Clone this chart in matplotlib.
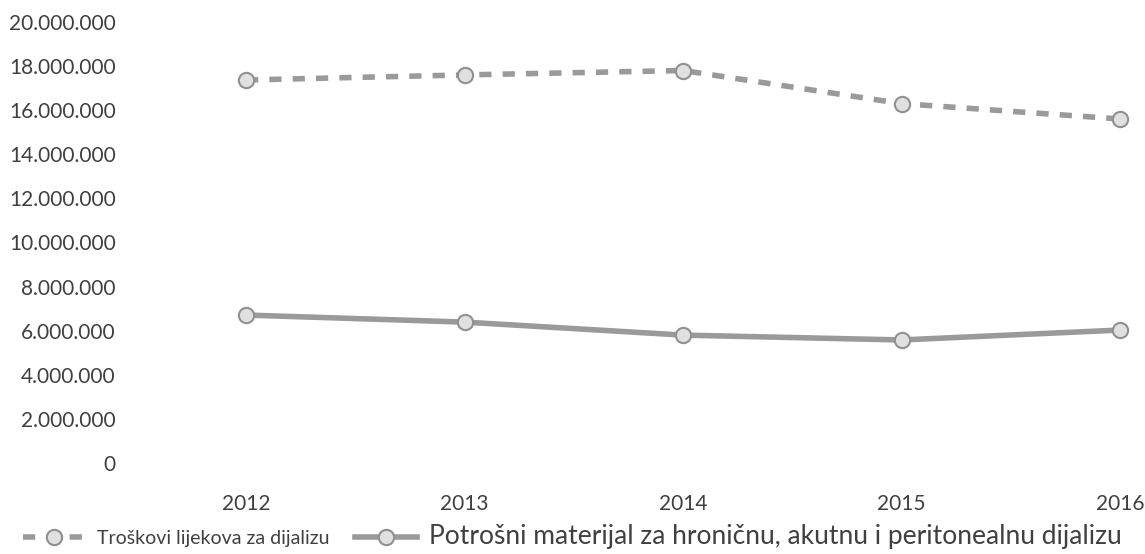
import matplotlib.pyplot as plt
from matplotlib.ticker import FuncFormatter

plt.rcParams['font.family'] = ['Lato', 'DejaVu Sans']

years = ['2012', '2013', '2014', '2015', '2016']
lijekovi = [17370000, 17600000, 17800000, 16300000, 15600000]
materijal = [6710000, 6390000, 5800000, 5580000, 6030000]
labels = ['Troškovi lijekova za dijalizu',
          'Potrošni materijal za hroničnu, akutnu i peritonealnu dijalizu']

fig = plt.figure(figsize=(11.45, 5.54), dpi=100)
ax = fig.add_axes([135 / 1145, (554 - 463) / 554, 1 - 135 / 1145, (463 - 22) / 554])

x = range(len(years))
ax.plot(x, lijekovi, color='#9a9a9a', lw=4, ls=(0, (2.2, 2.0)),
        marker='o', ms=11, mfc='#e0e0e0', mec='#909090', mew=1.5, label=labels[0])
ax.plot(x, materijal, color='#9a9a9a', lw=4, ls='-',
        marker='o', ms=11, mfc='#e0e0e0', mec='#909090', mew=1.5, label=labels[1])

ax.set_xlim(-0.508, 4.114)
ax.set_ylim(0, 20000000)
ax.set_yticks(range(0, 20000001, 2000000))
ax.yaxis.set_major_formatter(FuncFormatter(lambda v, p: f'{int(v):,}'.replace(',', '.')))
ax.set_xticks(list(x))
ax.set_xticklabels(years)
ax.tick_params(axis='y', length=0, pad=14, labelsize=15, labelcolor='#404040')
ax.tick_params(axis='x', length=0, pad=22, labelsize=15, labelcolor='#404040')
for s in ax.spines.values():
    s.set_visible(False)

leg = fig.legend(loc='lower left', bbox_to_anchor=(0.005, -0.022), ncol=2, frameon=False,
                 fontsize=14, labelcolor='#404040', handlelength=3.2, columnspacing=1.3,
                 handletextpad=0.6)
leg.get_texts()[1].set_fontsize(19)

fig.savefig('out.png', dpi=100, facecolor='white')
